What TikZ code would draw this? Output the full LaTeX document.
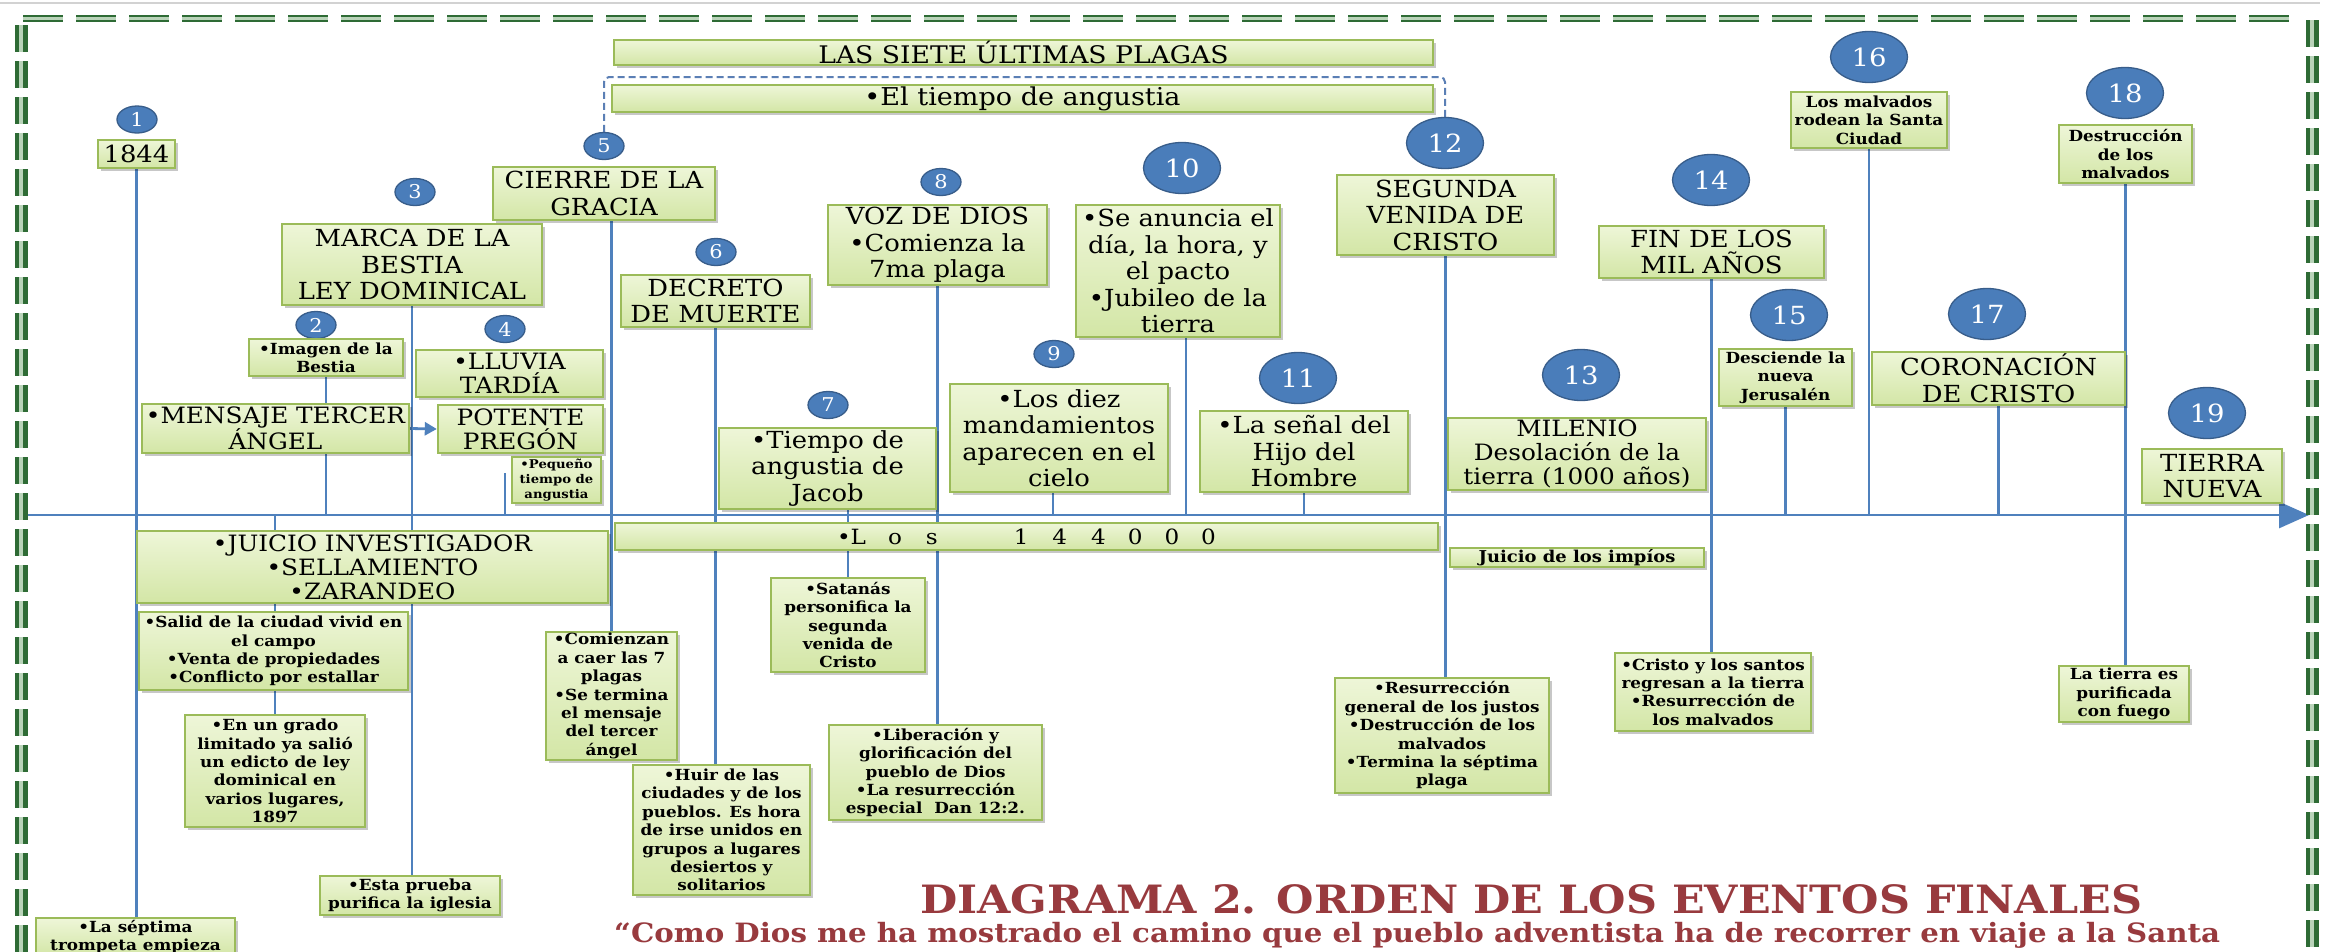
\documentclass[tikz,border=0pt]{standalone}
\usepackage{fontspec}
\setmainfont{DejaVu Serif}[FakeStretch=1.1]
\usetikzlibrary{shapes.geometric,arrows.meta,shadows,backgrounds}
\definecolor{gedge}{HTML}{9BBB59}
\definecolor{gtop}{HTML}{EEF6D8}
\definecolor{gbot}{HTML}{D3E6A6}
\definecolor{cfill}{HTML}{4A7DBA}
\definecolor{cedge}{HTML}{385D8A}
\definecolor{lblue}{HTML}{4F81BD}
\definecolor{bgreen}{HTML}{2E6B35}
\definecolor{bgreenl}{HTML}{B9D3B9}
\definecolor{tred}{HTML}{983A3E}
\definecolor{brkc}{HTML}{5B7FB5}
\newcommand{\dgBig}{\fontsize{23.5}{26.5}\selectfont}
\newcommand{\dgMid}{\fontsize{22.5}{24}\selectfont}
\newcommand{\dgSmall}{\fontsize{15.3}{18.4}\selectfont\bfseries}
\newcommand{\dgTiny}{\fontsize{12}{15.3}\selectfont\bfseries}
\newcommand{\dgNumS}{\fontsize{19}{19}\selectfont}
\newcommand{\dgNumL}{\fontsize{25}{25}\selectfont}
\newcommand{\dgTitle}{\fontsize{39}{39}\selectfont\bfseries}
\newcommand{\dgSub}{\fontsize{26.6}{26.6}\selectfont\bfseries}
\begin{document}
\begin{tikzpicture}[x=1pt,y=-1pt,
  gbox/.style={draw=gedge, line width=2.4pt, top color=gtop, bottom color=gbot, align=center, inner sep=1pt,
    drop shadow={shadow xshift=2.5pt, shadow yshift=-2.5pt, opacity=0.22, fill=black}},
  bigbox/.style={gbox, font=\dgBig},
  midbox/.style={gbox, font=\dgMid},
  smallbox/.style={gbox, font=\dgSmall},
  tinybox/.style={gbox, font=\dgTiny},
  num/.style={ellipse, draw=cedge, fill=cfill, line width=1.3pt, text=white, inner sep=0pt},
  snum/.style={num, minimum width=40pt, minimum height=27pt, font=\dgNumS},
  lnum/.style={num, minimum width=77pt, minimum height=51pt, font=\dgNumL},
  conn/.style={draw=lblue, line width=2.8pt},
  hframe/.style={draw=bgreen, double=bgreenl, line width=2.4pt, double distance=2.2pt, dash pattern=on 40pt off 13pt},
  vframe/.style={draw=bgreen, double=bgreenl, line width=4.5pt, double distance=4pt, dash pattern=on 27pt off 9pt},
  bracket/.style={draw=brkc, line width=2pt, dash pattern=on 7pt off 4pt, rounded corners=5pt},
  wsize/.style 2 args={minimum width=#1pt, minimum height=#2pt},
]
\begin{scope}
\clip (0,0) rectangle (2333,951);
% circles
\node[snum] (c1) at (137,119.5) {1};
\node[snum] (c2) at (316,325) {2};
\node[snum] (c3) at (415,192) {3};
\node[snum] (c4) at (505,329) {4};
\node[snum] (c5) at (604,146) {5};
\node[snum] (c6) at (716,252) {6};
\node[snum] (c7) at (828,405) {7};
\node[snum] (c8) at (941,182) {8};
\node[snum] (c9) at (1054,354) {9};
\node[lnum] (c10) at (1182,168) {10};
\node[lnum] (c11) at (1298,378) {11};
\node[lnum] (c12) at (1445,143) {12};
\node[lnum] (c13) at (1581,375) {13};
\node[lnum] (c14) at (1711,180) {14};
\node[lnum] (c15) at (1789,315) {15};
\node[lnum] (c16) at (1869,57) {16};
\node[lnum] (c17) at (1987,314) {17};
\node[lnum] (c18) at (2125,93) {18};
\node[lnum] (c19) at (2207,413) {19};
% top bars
\node[gbox, font=\fontsize{24.2}{24.2}\selectfont, wsize={819}{25}] (blas) at (1023.5,52.5) {LAS SIETE ÚLTIMAS PLAGAS};
\node[gbox, font=\fontsize{24.6}{24.6}\selectfont, wsize={821}{27}] (bang) at (1022.5,98.5) {•El tiempo de angustia};
% upper boxes
\node[bigbox, wsize={77}{28}] (b1) at (136.5,154) {1844};
\node[bigbox, wsize={260}{81}] (b3) at (412,264.5) {MARCA DE LA\\BESTIA\\LEY DOMINICAL};
\node[bigbox, wsize={222}{53}] (b5) at (604,193.5) {CIERRE DE LA\\GRACIA};
\node[bigbox, wsize={189}{52}] (b6) at (715.5,301) {DECRETO\\DE MUERTE};
\node[bigbox, wsize={219}{80}] (b8) at (937.5,245) {VOZ DE DIOS\\•Comienza la\\7ma plaga};
\node[bigbox, wsize={204}{132}] (b10) at (1178,271) {•Se anuncia el\\día, la hora, y\\el pacto\\•Jubileo de la\\tierra};
\node[bigbox, wsize={217}{80}] (b12) at (1445.5,215) {SEGUNDA\\VENIDA DE\\CRISTO};
\node[bigbox, wsize={225}{52}] (b14) at (1711.5,252) {FIN DE LOS\\MIL AÑOS};
\node[smallbox, wsize={156}{56}] (b16) at (1869,120) {Los malvados\\rodean la Santa\\Ciudad};
\node[smallbox, wsize={133}{58}] (b18) at (2125.5,154) {Destrucción\\de los\\malvados};
\node[smallbox, wsize={133}{57}] (b15) at (1785.5,377.5) {Desciende la\\nueva\\Jerusalén};
\node[bigbox, wsize={253}{53}] (b17) at (1998.5,378.5) {CORONACIÓN\\DE CRISTO};
\node[bigbox, wsize={140}{54}] (b19) at (2212,476) {TIERRA\\NUEVA};
\node[midbox, wsize={258}{72}] (b13) at (1577,454) {MILENIO\\Desolación de la\\tierra (1000 años)};
\node[bigbox, wsize={208}{81}] (b11) at (1304,451.5) {•La señal del\\Hijo del\\Hombre};
\node[bigbox, wsize={218}{108}] (b9) at (1059,438) {•Los diez\\mandamientos\\aparecen en el\\cielo};
\node[bigbox, wsize={217}{81}] (b7) at (827.5,468.5) {•Tiempo de\\angustia de\\Jacob};
\node[smallbox, wsize={154}{37}] (b2) at (326,357.5) {•Imagen de la\\Bestia};
\node[midbox, wsize={187}{47}] (b4) at (509.5,373.5) {•LLUVIA\\TARDÍA};
\node[midbox, wsize={165}{48}] (bpot) at (520.5,429) {POTENTE\\PREGÓN};
\node[midbox, wsize={267}{49}] (bmen) at (275.5,428.5) {•MENSAJE TERCER\\ÁNGEL};
\node[tinybox, wsize={89}{46}] (bpeq) at (556.5,480) {•Pequeño\\tiempo de\\angustia};
% lower boxes
\node[midbox, wsize={471}{72}] (bjui) at (372.5,567) {•JUICIO INVESTIGADOR\\•SELLAMIENTO\\•ZARANDEO};
\node[smallbox, wsize={269}{78}] (bsal) at (273.5,651) {•Salid de la ciudad vivid en\\el campo\\•Venta de propiedades\\•Conflicto por estallar};
\node[smallbox, wsize={180}{112}] (bgra) at (275,771) {•En un grado\\limitado ya salió\\un edicto de ley\\dominical en\\varios lugares,\\1897};
\node[smallbox, wsize={180}{39}] (bpru) at (410,895.5) {•Esta prueba\\purifica la iglesia};
\node[smallbox, minimum width=199pt, anchor=north, inner sep=2pt] (bsep) at (135.5,917) {•La séptima\\trompeta empieza};
\node[smallbox, wsize={131}{128}] (bcom) at (611.5,696) {•Comienzan\\a caer las 7\\plagas\\•Se termina\\el mensaje\\del tercer\\ángel};
\node[smallbox, wsize={177}{130}] (bhui) at (721.5,830) {•Huir de las\\ciudades y de los\\pueblos. Es hora\\de irse unidos en\\grupos a lugares\\desiertos y\\solitarios};
\node[smallbox, wsize={154}{94}] (bsat) at (848,625) {•Satanás\\personifica la\\segunda\\venida de\\Cristo};
\node[smallbox, wsize={213}{95}] (blib) at (935.5,772.5) {•Liberación y\\glorificación del\\pueblo de Dios\\•La resurrección\\especial~~Dan 12:2.};
\node[gbox, font=\fontsize{21}{21}\selectfont, wsize={823}{27}] (b144) at (1026.5,536.5) {•L\hspace{22pt}o\hspace{24pt}s\hspace{76pt}1\hspace{24pt}4\hspace{24pt}4\hspace{22pt}0\hspace{22pt}0\hspace{22pt}0};
\node[gbox, font=\fontsize{16.3}{16.3}\selectfont\bfseries, inner sep=0pt, wsize={254}{19}] (bimp) at (1577,557.5) {Juicio de los impíos};
\node[smallbox, wsize={214}{115}] (bres) at (1442,735.5) {•Resurrección\\general de los justos\\•Destrucción de los\\malvados\\•Termina la séptima\\plaga};
\node[smallbox, wsize={196}{78}] (bcri) at (1713,692) {•Cristo y los santos\\regresan a la tierra\\•Resurrección de\\los malvados};
\node[smallbox, wsize={130}{56}] (btie) at (2124,694) {La tierra es\\purificada\\con fuego};
% titles
\node[font=\dgTitle, text=tred, anchor=base west, inner sep=0pt] (title) at (920,913) {DIAGRAMA 2. ORDEN DE LOS EVENTOS FINALES};
\node[font=\dgSub, text=tred, anchor=base west, inner sep=0pt] (subt) at (614,942) {“Como Dios me ha mostrado el camino que el pueblo adventista ha de recorrer en viaje a la Santa};
% page frame
\draw[gray!35, line width=1.5pt] (0,3) -- (2320,3);
\draw[hframe] (23,18.5) -- (2300,18.5);
\draw[vframe] (21,25) -- (21,980);
\draw[vframe] (2312,20) -- (2312,980);
\end{scope}
\begin{pgfonlayer}{background}
\fill[white] (0,0) rectangle (2333,951);
\begin{scope}
\clip (0,0) rectangle (2333,951);
\coordinate (axL) at (21,515);
\coordinate (axR) at (2309,515);
\coordinate (c4a) at (505,473);
\coordinate (brk) at (1022,77);
\draw[conn, -{Triangle[length=30pt,width=26pt]}] (axL) -- (axR);
\draw[conn] (b1.south) -- (b1.south |- bsep.north);
\draw[conn] (b2.south) -- (b2.south |- axL);
\draw[conn] (b3.south) -- (b3.south |- bpru.north);
\draw[conn] (c4a) -- (c4a |- axL);
\draw[conn] (bcom.north |- b5.south) -- (bcom.north);
\draw[conn] (b6.south) -- (b6.south |- bhui.north);
\draw[conn] (bsat.north |- b7.south) -- (bsat.north);
\draw[conn] (b8.south) -- (b8.south |- blib.north);
\draw[conn] ([xshift=-6pt]b9.south) -- ([xshift=-6pt]b9.south |- axL);
\draw[conn] ([xshift=8pt]b10.south) -- ([xshift=8pt]b10.south |- axL);
\draw[conn] (b11.south) -- (b11.south |- axL);
\draw[conn] (b12.south) -- (b12.south |- bres.north);
\draw[conn] (b14.south) -- (b14.south |- bcri.north);
\draw[conn] (b15.south) -- (b15.south |- axL);
\draw[conn] (b16.south) -- (b16.south |- axL);
\draw[conn] (b17.south) -- (b17.south |- axL);
\draw[conn] (b18.south) -- (b18.south |- btie.north);
\draw[conn] (bgra.north |- axL) -- (bgra.north);
\draw[conn, -{Triangle[length=12pt,width=13pt]}] (bmen.east) -- (bpot.west);
\draw[bracket] (c5.north) |- (brk) -| (c12.north);
\end{scope}
\end{pgfonlayer}
\pgfresetboundingbox
\useasboundingbox (0,0) rectangle (2333,951);
\end{tikzpicture}
\end{document}
